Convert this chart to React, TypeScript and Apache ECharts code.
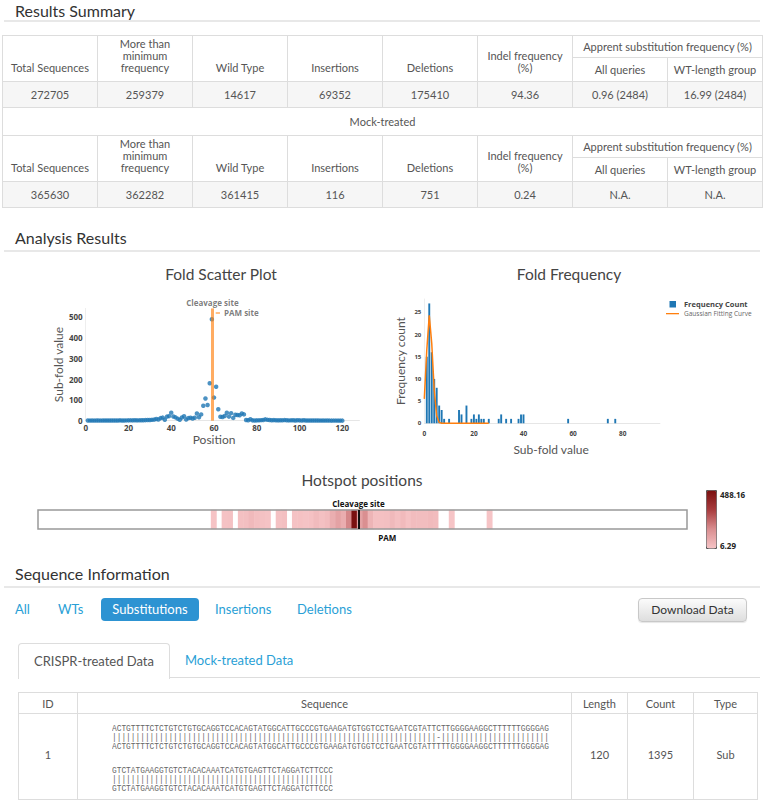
import React, { useEffect, useRef } from 'react';
import * as echarts from 'echarts';

const PAGE_FONT = "Lato, 'Open Sans', 'Noto Sans', sans-serif";
const PLOT_FONT = "'Open Sans', 'Noto Sans', sans-serif";
const LINK = '#2a9fd6';

// ---------- Results summary ----------
const SUMMARY_HEADERS = ['Total Sequences', 'More than\nminimum\nfrequency', 'Wild Type', 'Insertions', 'Deletions', 'Indel frequency\n(%)'];
const SUB_HEADER = 'Apprent substitution frequency (%)';
const SUB_COLUMNS = ['All queries', 'WT-length group'];
const CRISPR_ROW = ['272705', '259379', '14617', '69352', '175410', '94.36', '0.96 (2484)', '16.99 (2484)'];
const MOCK_LABEL = 'Mock-treated';
const MOCK_ROW = ['365630', '362282', '361415', '116', '751', '0.24', 'N.A.', 'N.A.'];

// ---------- Fold scatter plot (sub-fold value per position 1..120) ----------
const SUB_FOLD_VALUES = [
  0.8, 0.6, 0.9, 0.5, 0.7, 1.0, 0.6, 0.8, 0.9, 0.7,
  0.8, 1.1, 0.9, 0.7, 1.2, 1.5, 1.3, 1.0, 1.4, 1.6,
  1.8, 1.5, 2.0, 1.6, 1.8, 2.2, 2.5, 2.8, 3.1, 3.4,
  4.2, 5.1, 8.5, 5.6, 12.4, 14.8, 4.9, 19.5, 22.1, 38.6,
  20.3, 16.2, 9.8, 4.6, 15.3, 21.7, 5.4, 12.6, 13.9, 10.4,
  14.2, 34.5, 16.8, 30.2, 71.6, 106.4, 75.3, 179.8, 488.16, 111.2,
  163.5, 54.8, 18.7, 18.1, 22.4, 37.9, 19.6, 36.2, 13.4, 28.8,
  27.5, 25.9, 35.1, 30.4, 3.2, 2.1, 7.3, 1.6, 1.2, 1.5,
  1.8, 2.6, 3.4, 6.29, 4.1, 3.3, 2.2, 2.7, 1.9, 1.5,
  2.4, 1.8, 2.9, 2.1, 1.4, 1.7, 2.3, 1.2, 2.0, 1.6,
  1.3, 1.9, 1.1, 0.9, 1.2, 0.8, 1.0, 0.7, 0.9, 0.6,
  0.8, 0.5, 0.7, 0.6, 0.4, 0.6, 0.5, 0.3, 0.4, 0.3,
];
const CLEAVAGE_SITE = 59.25;
const PAM_SITE = 62;
const HOTSPOT_THRESHOLD = 6;

// ---------- Fold frequency ----------
const FOLD_BINS = [1, 2, 3, 4, 5, 6, 7, 8, 10, 14, 15, 17, 19, 20, 21, 22, 23, 24, 26, 30, 31, 33, 35, 38, 39, 40, 58, 74, 77];
const FOLD_COUNTS = [15, 27, 16, 10, 8, 4, 3, 1, 1, 3, 2, 4, 1, 2, 1, 2, 1, 1, 1, 1, 2, 1, 1, 1, 2, 2, 1, 1, 1];
const GAUSS_X = [0, 1, 2, 3, 4, 5, 6, 7, 8, 9, 10, 11, 12, 13, 14, 15, 16, 17, 18, 19, 20, 21, 22, 23, 24, 25, 26];
const GAUSS_Y = [5.5, 16.5, 24.3, 18, 7.5, 1.7, 0.2, 0, 0, 0, 0, 0, 0, 0, 0, 0, 0, 0, 0, 0, 0, 0, 0, 0, 0, 0, 0];

// ---------- Sequence information ----------
const FILTERS = ['All', 'WTs', 'Substitutions', 'Insertions', 'Deletions'];
const ACTIVE_FILTER = 'Substitutions';
const TABS = ['CRISPR-treated Data', 'Mock-treated Data'];
const SEQ_HEADERS = ['ID', 'Sequence', 'Length', 'Count', 'Type'];
const QUERY_SEQ = [
  'ACTGTTTTCTCTGTCTGTGCAGGTCCACAGTATGGCATTGCCCGTGAAGATGTGGTCCTGAATCGTATTCTTGGGGAAGGCTTTTTTGGGGAG',
  'GTCTATGAAGGTGTCTACACAAATCATGTGAGTTCTAGGATCTTCCC',
];
const REF_SEQ = [
  'ACTGTTTTCTCTGTCTGTGCAGGTCCACAGTATGGCATTGCCCGTGAAGATGTGGTCCTGAATCGTATTTTTGGGGAAGGCTTTTTTGGGGAG',
  'GTCTATGAAGGTGTCTACACAAATCATGTGAGTTCTAGGATCTTCCC',
];
const SEQ_ROW = { id: '1', length: '120', count: '1395', type: 'Sub' };

const CHART_TOP = 255;

const cell: React.CSSProperties = {
  border: '1px solid #dddddd',
  textAlign: 'center',
  color: '#555',
  padding: '0 3px',
  lineHeight: '12px',
  whiteSpace: 'pre-line',
};

function HeaderRows() {
  return (
    <>
      <tr style={{ height: 22 }}>
        {SUMMARY_HEADERS.map((h) => (
          <td key={h} rowSpan={2} style={{ ...cell, verticalAlign: 'bottom', paddingBottom: 7 }}>{h}</td>
        ))}
        <td colSpan={2} style={{ ...cell, verticalAlign: 'middle' }}>{SUB_HEADER}</td>
      </tr>
      <tr style={{ height: 24 }}>
        {SUB_COLUMNS.map((h) => (
          <td key={h} style={{ ...cell }}>{h}</td>
        ))}
      </tr>
    </>
  );
}

function DataRow({ row }: { row: string[] }) {
  return (
    <tr style={{ height: 26, background: '#f6f6f6' }}>
      {row.map((v, i) => (
        <td key={i} style={cell}>{v}</td>
      ))}
    </tr>
  );
}

function Heading({ text, top, lineTop }: { text: string; top: number; lineTop: number }) {
  return (
    <>
      <div style={{ position: 'absolute', left: 15, top, fontSize: 16, color: '#333', lineHeight: '19px' }}>{text}</div>
      <div style={{ position: 'absolute', left: 4, top: lineTop, width: 756, height: 2, background: '#e8e8e8' }} />
    </>
  );
}

function Charts() {
  const ref = useRef<HTMLDivElement>(null);
  useEffect(() => {
    if (!ref.current) return;
    const chart = echarts.init(ref.current, null, { renderer: 'svg' });

    const heatData = SUB_FOLD_VALUES.map((v, i) => [i, 0, v]).filter((d) => d[2] >= HOTSPOT_THRESHOLD);
    const heatVals = heatData.map((d) => d[2]);
    const heatMin = Math.min(...heatVals);
    const heatMax = Math.max(...heatVals);

    const tickLabel = { fontFamily: PLOT_FONT, fontWeight: 'bold' as const, color: '#444' };
    const axisTitle = { fontFamily: PAGE_FONT, fontSize: 12, color: '#555' };
    const faint = { show: true, lineStyle: { color: '#e6e6e6', width: 1 } };

    const grids = [
      { left: 85.7, top: 53.4, width: 273.7, height: 112.3 },
      { left: 424.3, top: 44, width: 235.6, height: 124.3 },
      { left: 38, top: 255, width: 649, height: 19 },
    ];
    const titleStyle = { fontSize: 15.5, fontFamily: PAGE_FONT, fill: '#444', align: 'center', verticalAlign: 'middle' };

    const option: any = {
      animation: false,
      textStyle: { fontFamily: PLOT_FONT },
      grid: grids,
      graphic: [
        { type: 'text', x: 221, y: 19, style: { ...titleStyle, text: 'Fold Scatter Plot' } },
        { type: 'text', x: 569, y: 19, style: { ...titleStyle, text: 'Fold Frequency' } },
        { type: 'text', x: 362, y: 225, style: { ...titleStyle, text: 'Hotspot positions' } },
        { type: 'rect', shape: { x: grids[2].left, y: grids[2].top, width: grids[2].width, height: grids[2].height }, style: { fill: 'none', stroke: '#999', lineWidth: 1.5 }, z: 100 },
        { type: 'text', x: 720, y: 239, style: { text: heatMax.toFixed(2), fontSize: 8, fontWeight: 'bold', fontFamily: PLOT_FONT, fill: '#222', align: 'left', verticalAlign: 'middle' } },
        { type: 'text', x: 720, y: 290, style: { text: heatMin.toFixed(2), fontSize: 8, fontWeight: 'bold', fontFamily: PLOT_FONT, fill: '#222', align: 'left', verticalAlign: 'middle' } },
      ],
      legend: {
        orient: 'vertical',
        left: 666,
        top: 45,
        itemGap: 2,
        itemWidth: 13,
        itemHeight: 7,
        padding: 0,
        data: [
          { name: 'Frequency Count', icon: 'path://M0,0M13,7M3.5,0.5h6.5v6.5h-6.5z', textStyle: { fontSize: 7.5, fontWeight: 'bold', color: '#444', fontFamily: PLOT_FONT } },
          { name: 'Gaussian Fitting Curve', icon: 'path://M0,0M13,7M0,3h13v1.3h-13z', itemStyle: { color: '#ff7f0e' }, textStyle: { fontSize: 6.5, color: '#666', fontFamily: PLOT_FONT } },
        ],
      },
      visualMap: {
        type: 'continuous',
        seriesIndex: 3,
        min: heatMin,
        max: heatMax,
        left: 706,
        top: 235,
        itemWidth: 10,
        itemHeight: 58,
        padding: 0,
        text: null,
        showLabel: false,
        calculable: false,
        borderColor: '#555',
        borderWidth: 1,
        inRange: { color: ['#f6c4c6', '#d98e90', '#a83c3e', '#7a1010'] },
      },
      xAxis: [
        {
          gridIndex: 0, type: 'value', min: 0, max: 128, interval: 20,
          axisLine: faint, axisTick: { show: false }, splitLine: { show: false },
          axisLabel: { ...tickLabel, fontSize: 8, margin: 3, showMaxLabel: false },
          name: 'Position', nameLocation: 'middle', nameGap: 13, nameTextStyle: { ...axisTitle, padding: [0, 17, 0, 0] },
        },
        {
          gridIndex: 1, type: 'value', min: 0, max: 95, interval: 20,
          axisLine: faint, axisTick: { show: false }, splitLine: { show: false },
          axisLabel: { ...tickLabel, fontSize: 6.5, margin: 7, showMaxLabel: false },
          name: 'Sub-fold value', nameLocation: 'middle', nameGap: 20, nameTextStyle: { ...axisTitle, padding: [0, 0, 0, 18] },
        },
        { gridIndex: 2, type: 'category', data: SUB_FOLD_VALUES.map((_, i) => String(i + 1)), show: false },
        { gridIndex: 2, type: 'value', min: 0, max: SUB_FOLD_VALUES.length, show: false },
      ],
      yAxis: [
        {
          gridIndex: 0, type: 'value', min: 0, max: 540, interval: 100,
          axisLine: { show: true, lineStyle: { color: '#eeeeee' } }, axisTick: { show: false }, splitLine: { show: false },
          axisLabel: { ...tickLabel, fontSize: 8, margin: 3, showMaxLabel: false },
          name: 'Sub-fold value', nameLocation: 'middle', nameGap: 21, nameTextStyle: axisTitle,
        },
        {
          gridIndex: 1, type: 'value', min: 0, max: 28, interval: 5,
          axisLine: { show: true, lineStyle: { color: '#eeeeee' } }, axisTick: { show: false }, splitLine: { show: false },
          axisLabel: { ...tickLabel, fontSize: 6, margin: 3, showMaxLabel: false },
          name: 'Frequency count', nameLocation: 'middle', nameGap: 18, nameTextStyle: axisTitle,
        },
        { gridIndex: 2, type: 'category', data: ['Hotspot'], show: false },
        { gridIndex: 2, type: 'value', min: 0, max: 1, show: false },
      ],
      series: [
        {
          type: 'scatter', xAxisIndex: 0, yAxisIndex: 0, name: 'Sub-fold',
          data: SUB_FOLD_VALUES.map((v, i) => [i + 1, v]),
          symbolSize: 4.5, clip: false,
          itemStyle: { color: '#1f77b4' },
          markLine: {
            silent: true, symbol: 'none',
            lineStyle: { color: '#ff7f0e', opacity: 0.65, width: 3, type: 'solid' },
            data: [
              [
                { coord: [CLEAVAGE_SITE, 0] },
                { coord: [CLEAVAGE_SITE, 540], label: { show: true, position: 'end', formatter: 'Cleavage site', distance: 2, fontSize: 8, fontWeight: 'bold', color: '#333', fontFamily: PLOT_FONT } },
              ],
              [
                { coord: [PAM_SITE - 1.2, 518], lineStyle: { width: 1.5 } },
                { coord: [PAM_SITE + 0.8, 518], label: { show: true, position: 'end', formatter: 'PAM site', distance: 4, fontSize: 8, fontWeight: 'bold', color: '#333', fontFamily: PLOT_FONT } },
              ],
            ],
          },
        },
        {
          type: 'bar', xAxisIndex: 1, yAxisIndex: 1, name: 'Frequency Count',
          data: FOLD_BINS.map((b, i) => [b, FOLD_COUNTS[i]]),
          barWidth: 1.9,
          itemStyle: { color: '#1f77b4' },
        },
        {
          type: 'line', xAxisIndex: 1, yAxisIndex: 1, name: 'Gaussian Fitting Curve',
          data: GAUSS_X.map((x, i) => [x, GAUSS_Y[i]]),
          symbol: 'none', lineStyle: { color: '#ff7f0e', width: 1.5 }, itemStyle: { color: '#ff7f0e' },
        },
        {
          type: 'heatmap', xAxisIndex: 2, yAxisIndex: 2, name: 'Hotspot',
          data: heatData,
        },
        {
          type: 'scatter', xAxisIndex: 3, yAxisIndex: 3, name: 'Sites', data: [],
          markLine: {
            silent: true, symbol: 'none', z: 110,
            lineStyle: { color: '#111', width: 2, type: 'solid' },
            data: [
              [
                { coord: [CLEAVAGE_SITE, 0] },
                { coord: [CLEAVAGE_SITE, 1], label: { show: true, position: 'end', formatter: 'Cleavage site', distance: 3, fontSize: 8, fontWeight: 'bold', color: '#111', fontFamily: PLOT_FONT } },
              ],
            ],
          },
          markPoint: {
            silent: true, symbol: 'circle', symbolSize: 0,
            data: [{ coord: [PAM_SITE, 0], label: { show: true, position: 'bottom', formatter: 'PAM', distance: 4, offset: [14, 0], fontSize: 8, fontWeight: 'bold', color: '#111', fontFamily: PLOT_FONT } }],
          },
        },
      ],
    };
    chart.setOption(option);
    return () => chart.dispose();
  }, []);
  return <div ref={ref} style={{ position: 'absolute', left: 0, top: CHART_TOP, width: 764, height: 305 }} />;
}

export default function App() {
  useEffect(() => {
    document.body.style.margin = '0';
  }, []);

  const alignLines = QUERY_SEQ.map((q, k) => q.split('').map((c, i) => (c === REF_SEQ[k][i] ? '|' : '-')).join(''));

  const seqCell: React.CSSProperties = { border: '1px solid #dddddd', textAlign: 'center', color: '#555', padding: 0 };

  return (
    <div style={{ position: 'relative', width: 764, height: 800, overflow: 'hidden', fontFamily: PAGE_FONT, background: '#fff' }}>
      <Heading text="Results Summary" top={1} lineTop={20} />
      <table style={{ position: 'absolute', left: 2, top: 35, width: 760, borderCollapse: 'collapse', tableLayout: 'fixed', fontSize: 11 }}>
        <colgroup>
          {CRISPR_ROW.map((_, i) => <col key={i} style={{ width: 95 }} />)}
        </colgroup>
        <tbody>
          <HeaderRows />
          <DataRow row={CRISPR_ROW} />
          <tr style={{ height: 28 }}>
            <td colSpan={8} style={cell}>{MOCK_LABEL}</td>
          </tr>
          <HeaderRows />
          <DataRow row={MOCK_ROW} />
        </tbody>
      </table>

      <Heading text="Analysis Results" top={228} lineTop={250} />
      <Charts />

      <Heading text="Sequence Information" top={564} lineTop={586} />
      {FILTERS.map((f, i) => {
        const lefts = [15, 58, 101, 215, 297];
        const active = f === ACTIVE_FILTER;
        return (
          <div key={f} style={{
            position: 'absolute', left: lefts[i], top: 598, height: 23, lineHeight: '23px', fontSize: 13,
            color: active ? '#fff' : LINK, background: active ? '#2d93d2' : 'transparent',
            borderRadius: 4, width: active ? 98 : undefined, textAlign: 'center',
          }}>{f}</div>
        );
      })}
      <div style={{
        position: 'absolute', left: 638, top: 598, width: 107, height: 22, lineHeight: '22px', fontSize: 12,
        color: '#333', textAlign: 'center', border: '1px solid #c8c8c8', borderRadius: 4,
        background: 'linear-gradient(#fbfbfb, #dedede)', boxShadow: '0 1px 1px rgba(0,0,0,0.1)',
      }}>Download Data</div>

      <div style={{ position: 'absolute', left: 170, top: 677, width: 590, height: 1, background: '#dddddd' }} />
      <div style={{
        position: 'absolute', left: 18, top: 643, width: 150, height: 35, border: '1px solid #dddddd', borderBottom: 'none',
        borderRadius: '4px 4px 0 0', background: '#fff', lineHeight: '34px', fontSize: 13, color: '#555', textAlign: 'center',
      }}>{TABS[0]}</div>
      <div style={{ position: 'absolute', left: 185, top: 643, height: 34, lineHeight: '34px', fontSize: 13, color: LINK }}>{TABS[1]}</div>

      <table style={{ position: 'absolute', left: 18, top: 692, width: 739, borderCollapse: 'collapse', tableLayout: 'fixed', fontSize: 11 }}>
        <colgroup>
          {[59, 494, 56, 66, 64].map((w, i) => <col key={i} style={{ width: w }} />)}
        </colgroup>
        <tbody>
          <tr style={{ height: 21 }}>
            {SEQ_HEADERS.map((h) => <td key={h} style={seqCell}>{h}</td>)}
          </tr>
          <tr style={{ height: 86 }}>
            <td style={{ ...seqCell, paddingBottom: 4 }}>{SEQ_ROW.id}</td>
            <td style={{ ...seqCell, textAlign: 'left', verticalAlign: 'top', position: 'relative' }}>
              <div style={{ position: 'absolute', left: 34, top: 11, transform: 'scaleX(0.87)', transformOrigin: 'left top', fontFamily: "'Liberation Mono', 'DejaVu Sans Mono', monospace", fontSize: 9, lineHeight: '9px', color: '#666', whiteSpace: 'pre' }}>
                {QUERY_SEQ.map((q, k) => (
                  <div key={k} style={{ marginBottom: k === 0 ? 15 : 0 }}>
                    <div>{q}</div>
                    <div>{alignLines[k]}</div>
                    <div>{REF_SEQ[k]}</div>
                  </div>
                ))}
              </div>
            </td>
            <td style={{ ...seqCell, paddingBottom: 4 }}>{SEQ_ROW.length}</td>
            <td style={{ ...seqCell, paddingBottom: 4 }}>{SEQ_ROW.count}</td>
            <td style={{ ...seqCell, paddingBottom: 4 }}>{SEQ_ROW.type}</td>
          </tr>
        </tbody>
      </table>
    </div>
  );
}
